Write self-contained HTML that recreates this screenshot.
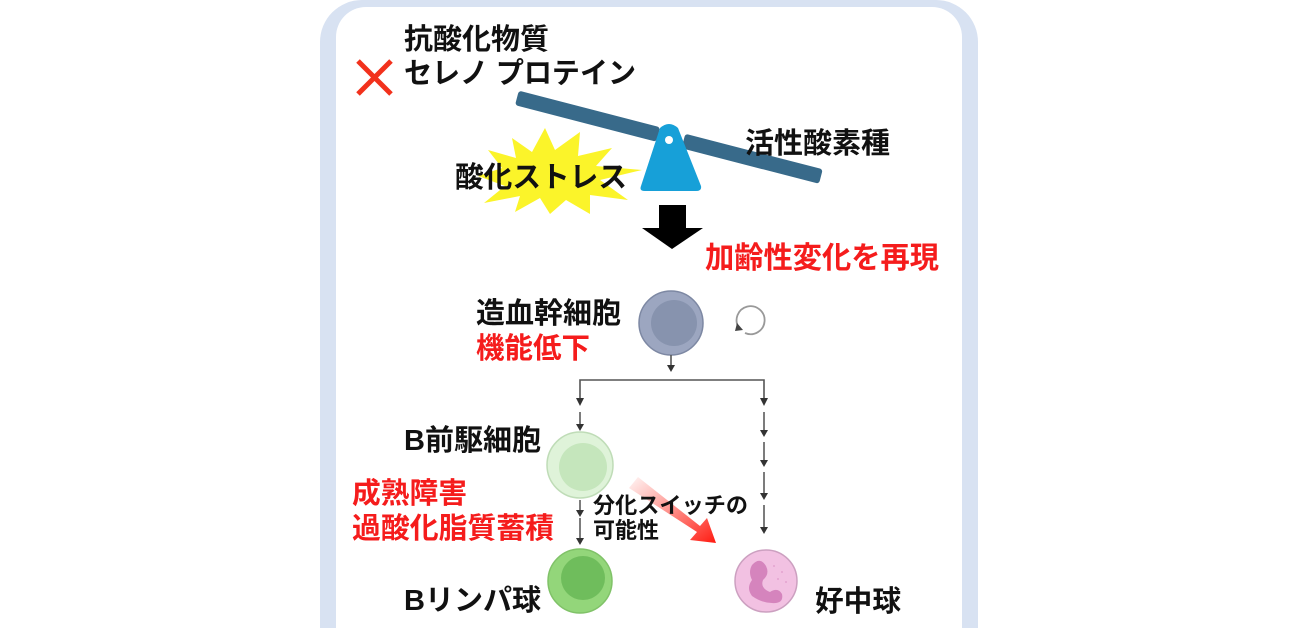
<!DOCTYPE html>
<html><head><meta charset="utf-8"><style>
html,body{margin:0;padding:0;background:#fff;width:1300px;height:628px;overflow:hidden;}
svg{display:block;}
text{font-family:"Liberation Sans","Noto Sans CJK JP",sans-serif;font-weight:bold;}
</style></head><body>
<svg width="1300" height="628" viewBox="0 0 1300 628" xmlns="http://www.w3.org/2000/svg">
<defs>
<linearGradient id="rg" x1="0" y1="0" x2="1" y2="1">
<stop offset="0" stop-color="#ff3b2f" stop-opacity="0.05"/>
<stop offset="1" stop-color="#ff1a10"/>
</linearGradient>
</defs>
<path d="M320,628 L320,42 A42,42 0 0 1 362,0 L936,0 A42,42 0 0 1 978,42 L978,628 Z" fill="#d8e2f2"/>
<path d="M336,628 L336,37 A30,30 0 0 1 366,7 L932,7 A30,30 0 0 1 962,37 L962,628 Z" fill="#fff"/>

<text x="404" y="49" font-size="29" fill="#111" textLength="145" lengthAdjust="spacingAndGlyphs">抗酸化物質</text>
<text x="404" y="83" font-size="29" fill="#111" textLength="232" lengthAdjust="spacingAndGlyphs">セレノ プロテイン</text>
<path d="M358,61 L391,94 M391,61 L358,94" stroke="#f2311c" stroke-width="5"/>

<polygon fill="#fbf42a" points="545,128 555,150 580,132 578,156 612,148 596,166 642,170 600,180 628,200 590,195 590,214 566,200 550,214 540,198 515,212 520,196 484,203 505,186 478,176 502,168 488,150 516,158 512,138 532,152" />
<text x="455" y="187" font-size="29" fill="#111" textLength="172" lengthAdjust="spacingAndGlyphs">酸化ストレス</text>

<g transform="rotate(14.5 670 137)">
<rect x="512" y="130" width="146" height="15" rx="3" fill="#386a8a"/>
<rect x="684" y="130" width="142" height="15" rx="3" fill="#386a8a"/>
</g>
<path d="M660,128 Q669,120 678,128 L701,186 Q702,191 696,191 L645,191 Q639,191 641,186 Z" fill="#17a0d8"/>
<circle cx="669" cy="140" r="4" fill="#fff"/>
<text x="745" y="153" font-size="29" fill="#111" textLength="145" lengthAdjust="spacingAndGlyphs">活性酸素種</text>

<path d="M659,205 L686,205 L686,228 L703,228 L672,249 L642,228 L659,228 Z" fill="#000"/>
<text x="705" y="268" font-size="30" fill="#f51c1c" textLength="234" lengthAdjust="spacingAndGlyphs">加齢性変化を再現</text>

<text x="476" y="323" font-size="29" fill="#111" textLength="145" lengthAdjust="spacingAndGlyphs">造血幹細胞</text>
<text x="476" y="358" font-size="29" fill="#f51c1c" textLength="114" lengthAdjust="spacingAndGlyphs">機能低下</text>
<circle cx="671" cy="323" r="32" fill="#9ca6c0" stroke="#7d88a3" stroke-width="1.5"/>
<circle cx="674" cy="323" r="23" fill="#8793ae"/>
<path d="M739,328 A14,14 0 1 1 745,333" fill="none" stroke="#999" stroke-width="1.8"/>
<path d="M737,323 L743,330 L735,331 Z" fill="#444"/>

<g stroke="#555" stroke-width="1.6" fill="none">
<line x1="671" y1="355" x2="671" y2="366"/>
<polyline points="580,398 580,380 764,380 764,398"/>
</g>
<g fill="#333">
<path d="M667,365 L675,365 L671,372 Z"/>
<path d="M576,398 L584,398 L580,406 Z"/>
<path d="M760,398 L768,398 L764,406 Z"/>
</g>
<g stroke="#444" stroke-width="1.4">
<line x1="580" y1="412" x2="580" y2="424"/>
<line x1="764" y1="412" x2="764" y2="430"/>
<line x1="764" y1="442" x2="764" y2="460"/>
<line x1="764" y1="472" x2="764" y2="493"/>
<line x1="764" y1="505" x2="764" y2="527"/>
<line x1="580" y1="500" x2="580" y2="510"/>
<line x1="580" y1="518" x2="580" y2="538"/>
</g>
<g fill="#333">
<path d="M576,424 L584,424 L580,431 Z"/>
<path d="M760,430 L768,430 L764,437 Z"/>
<path d="M760,460 L768,460 L764,467 Z"/>
<path d="M760,493 L768,493 L764,500 Z"/>
<path d="M760,527 L768,527 L764,534 Z"/>
<path d="M576,510 L584,510 L580,517 Z"/>
<path d="M576,538 L584,538 L580,545 Z"/>
</g>

<text x="404" y="450" font-size="29" fill="#111" textLength="137" lengthAdjust="spacingAndGlyphs">B前駆細胞</text>
<circle cx="580" cy="465" r="33" fill="#dff3d9" stroke="#bfdcb7" stroke-width="1.5"/>
<circle cx="583" cy="467" r="24" fill="#c5e6bc"/>
<text x="352" y="503" font-size="29" fill="#f51c1c" textLength="115" lengthAdjust="spacingAndGlyphs">成熟障害</text>
<text x="352" y="538" font-size="29" fill="#f51c1c" textLength="202" lengthAdjust="spacingAndGlyphs">過酸化脂質蓄積</text>

<path d="M629,488 L638,477 L700,526 L707,518 L716,543 L690,540 L697,532 Z" fill="url(#rg)"/>
<text x="593" y="513" font-size="22" fill="#111" textLength="155" lengthAdjust="spacingAndGlyphs">分化スイッチの</text>
<text x="593" y="538" font-size="22" fill="#111" textLength="66" lengthAdjust="spacingAndGlyphs">可能性</text>

<circle cx="580" cy="581" r="32" fill="#93d67a" stroke="#80c268" stroke-width="1.5"/>
<circle cx="583" cy="578" r="22" fill="#6fbd5c"/>
<text x="404" y="610" font-size="29" fill="#111" textLength="137" lengthAdjust="spacingAndGlyphs">Bリンパ球</text>

<circle cx="766" cy="581" r="31" fill="#f2c1e2" stroke="#cca0c0" stroke-width="1.5"/>
<path d="M752,565 Q760,556 766,566 Q770,574 763,580 Q760,588 770,592 Q778,587 782,594 Q784,604 772,603 Q762,603 752,596 Q746,588 752,580 Q748,572 752,565 Z" fill="#d584bd"/>
<g fill="#e4a2cf"><circle cx="774" cy="566" r="1"/><circle cx="782" cy="572" r="1"/><circle cx="778" cy="579" r="1"/><circle cx="786" cy="582" r="1"/></g>
<text x="815" y="611" font-size="29" fill="#111" textLength="86" lengthAdjust="spacingAndGlyphs">好中球</text>
</svg>
</body></html>
